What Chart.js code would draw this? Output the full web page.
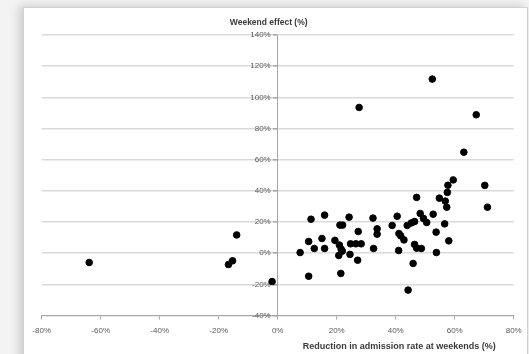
<!DOCTYPE html>
<html>
<head>
<meta charset="utf-8">
<script src="https://cdn.jsdelivr.net/npm/chart.js@4/dist/chart.umd.min.js"></script>
<style>
  html, body { margin: 0; padding: 0; background: #f3f3f3; overflow: hidden; }
  .wrap { position: relative; width: 529px; height: 354px; }
  .frame {
    position: absolute; left: 23px; top: 7px; width: 503px; height: 360px;
    background: #fff; border: 1px solid #d2d2d2;
    box-shadow: -4px -1px 9px rgba(0,0,0,0.16);
  }
  #chart { position: absolute; left: 0; top: 0; }
</style>
</head>
<body>
<div class="wrap">
  <div class="frame"></div>
  <canvas id="chart" width="529" height="354"></canvas>
</div>
<script>
// x: reduction in admission rate at weekends (%), y: weekend effect (%)
let reductionPct = [
  -63.9, -13.9, -15.3, -16.7, -1.9,
  52.4, 27.6, 67.3, 63.1,
  59.5, 57.7, 70.2, 57.5, 47.1, 54.8, 56.8, 57.3, 71.1,
  40.5, 48.3, 52.7, 49.4, 50.5, 46.4, 45.3, 43.9, 38.8, 56.6,
  11.3, 15.9, 24.2, 32.3, 21.1, 22.0, 27.3, 33.7, 33.7,
  41.1, 41.7, 53.7, 42.8, 58.0, 46.4, 47.1, 48.7, 41.0, 53.8, 45.9, 44.2,
  10.5, 15.0, 19.4, 20.9, 24.7, 26.5, 28.3, 32.5,
  7.6, 12.4, 15.9, 21.5, 21.9, 20.7, 24.5, 27.1, 10.5, 21.4
];
let weekendEffectPct = [
  -6.0, 11.7, -4.9, -7.3, -18.2,
  111.7, 93.5, 88.8, 64.8,
  47.0, 43.6, 43.5, 39.0, 35.8, 35.3, 33.4, 29.5, 29.5,
  23.7, 25.5, 25.0, 22.3, 19.7, 20.3, 19.4, 17.8, 17.8, 18.8,
  21.8, 24.4, 23.1, 22.5, 18.0, 18.0, 13.9, 15.6, 12.2,
  12.6, 11.1, 13.5, 8.5, 7.9, 5.6, 3.2, 3.0, 1.7, 0.4, -6.6, -23.7,
  7.5, 9.4, 8.2, 5.2, 6.0, 6.0, 6.0, 3.0,
  0.4, 3.0, 3.0, 2.6, 1.3, -1.5, -0.8, -4.5, -14.8, -13.0
];

let xTicks = [-80, -60, -40, -20, 0, 20, 40, 60, 80];
let yTicks = [-40, -20, 0, 20, 40, 60, 80, 100, 120, 140];

let yTitle = 'Weekend effect (%)';
let xTitle = 'Reduction in admission rate at weekends (%)';

let points = reductionPct.map((x, i) => ({ x: x, y: weekendEffectPct[i] }));

let fontFamily = '"Liberation Sans", Arial, sans-serif';

// the y axis sits at x = 0, chart.js puts its labels right on the line - nudge them left
let yLabelShift = {
  id: 'yLabelShift',
  afterLayout(chart) {
    let items = chart.scales.y.getLabelItems();
    items.forEach(item => { item.options.translation[0] -= 7; });
  }
};

// axis titles drawn like the Excel original: one above the y axis, one at bottom right
let axisTitles = {
  id: 'axisTitles',
  afterDraw(chart) {
    let ctx = chart.ctx;
    let area = chart.chartArea;
    let zeroX = chart.scales.x.getPixelForValue(0);
    ctx.save();
    ctx.fillStyle = '#3a3a3a';
    ctx.font = 'bold 8.5px ' + fontFamily;
    ctx.textBaseline = 'middle';
    ctx.textAlign = 'center';
    ctx.fillText(yTitle, zeroX - 9, 23);
    ctx.font = 'bold 9px ' + fontFamily;
    ctx.textAlign = 'right';
    ctx.fillText(xTitle, area.right - 18, 347);
    ctx.restore();
  }
};

new Chart(document.getElementById('chart').getContext('2d'), {
  type: 'scatter',
  data: {
    datasets: [{
      data: points,
      backgroundColor: '#000',
      borderColor: '#000',
      pointRadius: 3.3,
      pointHoverRadius: 3.3
    }]
  },
  options: {
    responsive: false,
    animation: false,
    devicePixelRatio: 1,
    layout: { padding: { top: 35, left: 41.7, right: 15.3, bottom: 0 } },
    plugins: { legend: { display: false }, tooltip: { enabled: false } },
    scales: {
      x: {
        type: 'linear',
        position: 'bottom',
        min: -80,
        max: 80,
        afterBuildTicks: (scale) => { scale.ticks = xTicks.map(v => ({ value: v })); },
        afterFit: (scale) => { scale.height = 38.5; },
        grid: { drawOnChartArea: false, drawTicks: true, tickLength: 4, color: '#a6a6a6' },
        border: { display: true, color: '#a6a6a6', width: 1 },
        ticks: {
          padding: 6,
          color: '#595959',
          font: { family: fontFamily, size: 8 },
          maxRotation: 0,
          callback: (v) => v + '%'
        }
      },
      y: {
        type: 'linear',
        position: { x: 0 },
        min: -40,
        max: 140,
        afterBuildTicks: (scale) => { scale.ticks = yTicks.map(v => ({ value: v })); },
        grid: { color: '#dadada', lineWidth: 1.5, drawTicks: true, tickLength: 4, tickColor: '#a6a6a6' },
        border: { display: true, color: '#a6a6a6', width: 1 },
        ticks: {
          padding: 3,
          color: '#595959',
          font: { family: fontFamily, size: 8 },
          callback: (v) => v + '%'
        }
      }
    }
  },
  plugins: [yLabelShift, axisTitles]
});
</script>
</body>
</html>
